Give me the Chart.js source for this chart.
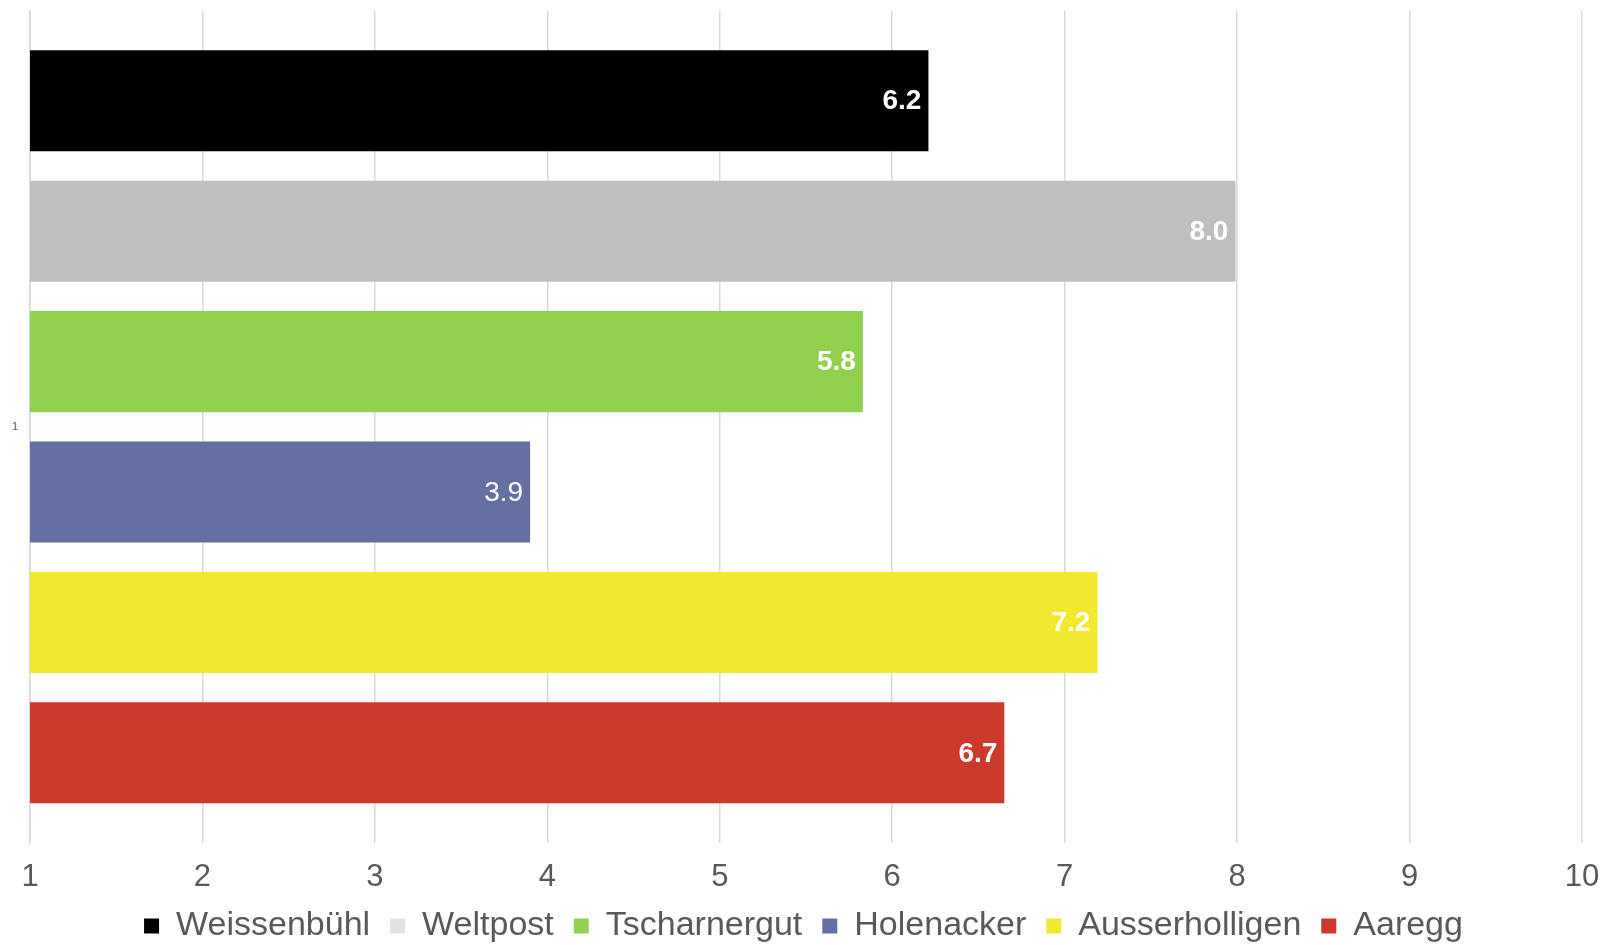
<!DOCTYPE html>
<html>
<head>
<meta charset="utf-8">
<script src="https://cdn.jsdelivr.net/npm/chart.js@4/dist/chart.umd.min.js"></script>
<style>
  html, body { margin: 0; padding: 0; background: #fff; }
  #wrap { width: 1607px; height: 945px; }
</style>
</head>
<body>
<div id="wrap"><canvas id="myChart"></canvas></div>
<script>
const categories = ['1'];
const seriesNames = ['Weissenbühl', 'Weltpost', 'Tscharnergut', 'Holenacker', 'Ausserholligen', 'Aaregg'];
const seriesValues = [6.21, 7.99, 5.83, 3.9, 7.19, 6.65];
const seriesLabels = ['6.2', '8.0', '5.8', '3.9', '7.2', '6.7'];
const barColors = ['#000000', '#bfbfbf', '#92d050', '#666fa3', '#f2e92e', '#cb3a2c'];
const legendColors = ['#000000', '#e2e2e2', '#92d050', '#666fa3', '#f2e92e', '#cb3a2c'];
const labelBold = [true, true, true, false, true, true];
const xTicks = [1, 2, 3, 4, 5, 6, 7, 8, 9, 10];

const FONT = '"Liberation Sans", Arial, sans-serif';

// draws the value at the inner end of every bar
const barValueLabels = {
  id: 'barValueLabels',
  afterDatasetsDraw(chart) {
    const ctx = chart.ctx;
    ctx.save();
    ctx.fillStyle = '#ffffff';
    ctx.textAlign = 'right';
    ctx.textBaseline = 'middle';
    chart.data.datasets.forEach((ds, i) => {
      const bar = chart.getDatasetMeta(i).data[0];
      ctx.font = (labelBold[i] ? 'bold ' : '') + '28px ' + FONT;
      ctx.fillText(seriesLabels[i], bar.x - 7, bar.y + 1);
    });
    ctx.restore();
  }
};

const ctx = document.getElementById('myChart').getContext('2d');
new Chart(ctx, {
  type: 'bar',
  data: {
    labels: categories,
    datasets: seriesNames.map((name, i) => ({
      label: name,
      data: [seriesValues[i]],
      backgroundColor: barColors[i],
      borderWidth: 0,
    })),
  },
  options: {
    indexAxis: 'y',
    responsive: true,
    maintainAspectRatio: false,
    animation: false,
    categoryPercentage: 0.94,
    barPercentage: 0.775,
    layout: { padding: { top: 10, right: 0, left: 0, bottom: -8 } },
    scales: {
      x: {
        min: 1,
        max: 10,
        afterBuildTicks: (scale) => {
          scale.ticks = xTicks.map((v) => ({ value: v }));
        },
        afterFit: (scale) => {
          scale.height = 46;
          scale.paddingRight = 25;
          scale.paddingLeft = 0;
        },
        grid: { color: '#d9d9d9', lineWidth: 1.5, drawTicks: false },
        border: { display: false },
        ticks: {
          color: '#595959',
          font: { family: FONT, size: 31 },
          padding: 16,
        },
      },
      y: {
        grid: { display: false },
        border: { display: true, color: '#d9d9d9', width: 1.5 },
        afterFit: (scale) => { scale.width = 30; },
        ticks: {
          color: '#595959',
          font: { family: FONT, size: 11 },
          padding: 4,
        },
      },
    },
    plugins: {
      legend: {
        position: 'bottom',
        labels: {
          color: '#595959',
          font: { family: FONT, size: 34 },
          boxWidth: 15,
          boxHeight: 15,
          padding: 20,
          generateLabels: (chart) =>
            chart.data.datasets.map((ds, i) => ({
              text: ds.label,
              fillStyle: legendColors[i],
              strokeStyle: legendColors[i],
              fontColor: '#595959',
              lineWidth: 0,
              hidden: false,
              datasetIndex: i,
            })),
        },
      },
      tooltip: { enabled: false },
    },
  },
  plugins: [barValueLabels],
});
</script>
</body>
</html>
